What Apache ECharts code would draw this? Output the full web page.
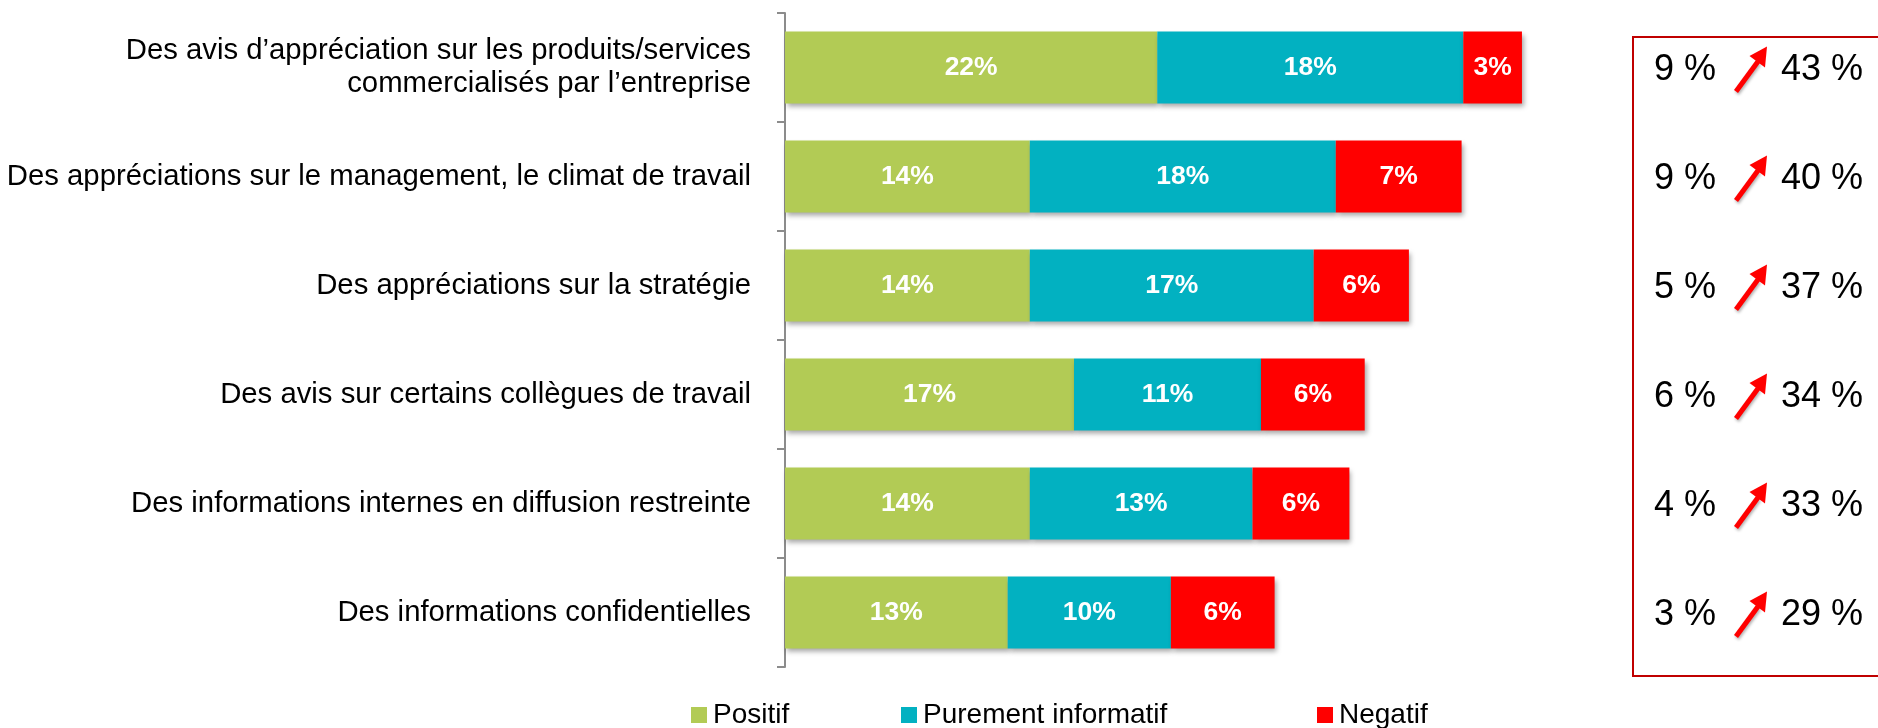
<!DOCTYPE html>
<html>
<head>
<meta charset="utf-8">
<script src="https://cdn.jsdelivr.net/npm/echarts@6/dist/echarts.min.js"></script>
<style>
html,body{margin:0;padding:0;background:#fff;}
#chart{width:1878px;height:728px;}
</style>
</head>
<body>
<div id="chart"></div>
<script>
const categories = [
  "Des avis d’appréciation sur les produits/services\ncommercialisés par l’entreprise",
  "Des appréciations sur le management, le climat de travail",
  "Des appréciations sur la stratégie",
  "Des avis sur certains collègues de travail",
  "Des informations internes en diffusion restreinte",
  "Des informations confidentielles"
];
const positif = [21.9, 14.4, 14.4, 17.0, 14.4, 13.1];
const informatif = [18.0, 18.0, 16.7, 11.0, 13.1, 9.6];
const negatif = [3.45, 7.4, 5.6, 6.1, 5.7, 6.1];
const before = [9, 9, 5, 6, 4, 3];
const after = [43, 40, 37, 34, 33, 29];
const seriesNames = ["Positif", "Purement informatif", "Negatif"];
const colors = ["#B2CB55", "#02B1C1", "#FF0000"];

const chart = echarts.init(document.getElementById('chart'), null, {renderer: 'canvas'});
const FONT = "'Liberation Sans', Arial, sans-serif";

function barSeries(name, data, color) {
  return {
    name: name,
    type: 'bar',
    stack: 'total',
    data: data,
    barWidth: 72,
    itemStyle: {
      color: color,
      shadowColor: 'rgba(0,0,0,0.35)',
      shadowBlur: 5,
      shadowOffsetX: 2,
      shadowOffsetY: 3
    },
    label: {
      show: true,
      position: 'inside',
      formatter: p => Math.round(p.value) + '%',
      color: '#fff',
      fontWeight: 'bold',
      fontSize: 26.5,
      fontFamily: FONT
    },
    emphasis: {disabled: true}
  };
}

function legend(name, left) {
  return {
    data: [name],
    left: left,
    top: 696,
    itemWidth: 16,
    itemHeight: 16,
    icon: 'rect',
    itemGap: 0,
    textStyle: {fontSize: 28, color: '#000', fontFamily: FONT, padding: [0, 0, 0, 1]},
    selectedMode: false
  };
}

const option = {
  animation: false,
  backgroundColor: '#fff',
  color: colors,
  legend: [legend(seriesNames[0], 686), legend(seriesNames[1], 896), legend(seriesNames[2], 1312)],
  grid: {left: 785, top: 13, width: 850, height: 654, containLabel: false},
  xAxis: {
    type: 'value', min: 0, max: 50, show: false
  },
  yAxis: {
    type: 'category',
    data: categories,
    inverse: true,
    axisLine: {show: true, lineStyle: {color: '#8c8c8c', width: 2}},
    axisTick: {show: true, length: 8, lineStyle: {color: '#8c8c8c', width: 2}},
    axisLabel: {
      fontSize: 29.3, color: '#000', fontFamily: FONT, margin: 34,
      align: 'right', lineHeight: 33
    },
    splitLine: {show: false}
  },
  graphic: [{
    type: 'rect',
    shape: {x: 1633, y: 37, width: 300, height: 639},
    style: {fill: 'none', stroke: '#C00000', lineWidth: 2},
    silent: true
  }],
  series: [
    barSeries(seriesNames[0], positif, colors[0]),
    barSeries(seriesNames[1], informatif, colors[1]),
    barSeries(seriesNames[2], negatif, colors[2]),
    {
      type: 'custom',
      name: 'evolution',
      clip: false,
      silent: true,
      data: before.map((b, i) => [0, i, b, after[i]]),
      renderItem: function (params, api) {
        const y = api.coord([0, api.value(1)])[1] + 3;
        const b = api.value(2), a = api.value(3);
        return {
          type: 'group',
          children: [
            {type: 'text', style: {text: b + ' %', x: 1654, y: y, fill: '#000', fontSize: 36, fontFamily: FONT, verticalAlign: 'middle', align: 'left'}},
            {type: 'line', shape: {x1: 1736, y1: y + 21, x2: 1758, y2: y - 9}, style: {stroke: '#FF0000', lineWidth: 5, shadowColor: 'rgba(0,0,0,0.3)', shadowBlur: 3, shadowOffsetX: 1, shadowOffsetY: 2}},
            {type: 'polygon', shape: {points: [[1767, y - 24], [1765, y - 3], [1749.5, y - 14.5]]}, style: {fill: '#FF0000'}},
            {type: 'text', style: {text: a + ' %', x: 1781, y: y, fill: '#000', fontSize: 36, fontFamily: FONT, verticalAlign: 'middle', align: 'left'}}
          ]
        };
      }
    }
  ]
};
chart.setOption(option);
</script>
</body>
</html>
